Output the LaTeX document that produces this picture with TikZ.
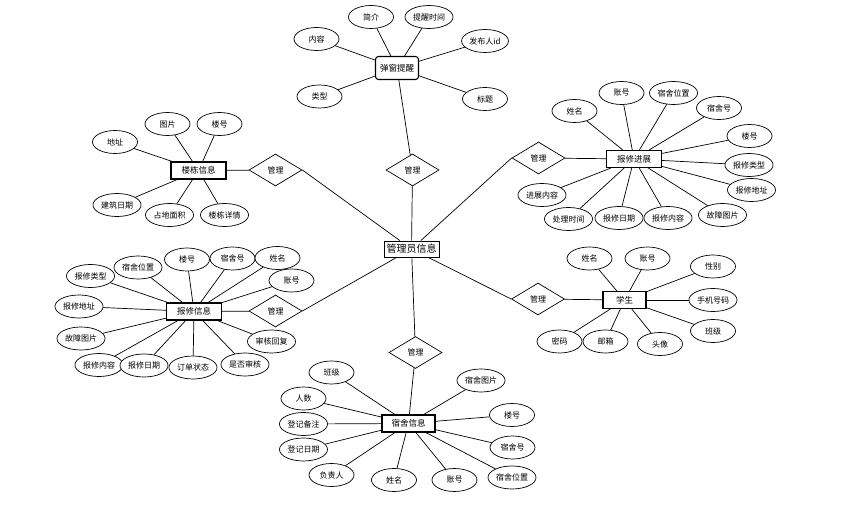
\documentclass[tikz,border=0pt]{standalone}
\usepackage{fontspec}
\newfontfamily\cjk{Noto Sans CJK SC}
\usetikzlibrary{shapes.geometric,shadows}

\begin{document}
\begin{tikzpicture}[x=1pt,y=-1pt,
	attr/.style={ellipse,draw,fill=white,line width=0.7pt,minimum width=45,minimum height=23,inner sep=1pt,font=\cjk\fontsize{8}{9}\selectfont},
	ent/.style={rectangle,draw,fill=white,line width=1.1pt,minimum width=55,minimum height=17,inner sep=1pt,font=\cjk\fontsize{8.5}{10}\selectfont},
	rel/.style={diamond,draw,fill=white,line width=0.7pt,minimum width=53,minimum height=32,inner sep=0pt,font=\cjk\fontsize{8}{9}\selectfont},
	conn/.style={line width=0.7pt}]
	%	\draw[help lines] (0,0) grid (855,505);
	\useasboundingbox (0,0) rectangle (855,505);

	\node[ent,font=\cjk\fontsize{10}{12}\selectfont,minimum height=16,line width=0.9pt,
		drop shadow={shadow xshift=1pt,shadow yshift=-1pt,opacity=0.35}] (admin) at (411.5,249) {管理员信息};

	\node[ent,rounded corners=3pt,minimum width=43,minimum height=23] (tx) at (397,68) {弹窗提醒};
	\node[ent] (ld) at (198.5,170.5) {楼栋信息};
	\node[ent] (jz) at (634,159) {报修进展};
	\node[ent] (bx) at (194,311.5) {报修信息};
	\node[ent,minimum width=43] (xs) at (624.5,300) {学生};
	\node[ent,minimum width=53] (ss) at (408.5,423.5) {宿舍信息};

	\node[rel] (r1) at (412.5,170) {管理};
	\node[rel] (r2) at (275.5,170) {管理};
	\node[rel] (r3) at (275.5,311) {管理};
	\node[rel] (r4) at (538.5,158) {管理};
	\node[rel] (r5) at (538,299) {管理};
	\node[rel] (r6) at (415.5,352.5) {管理};

	\draw[conn] (tx) to (r1);
	\draw[conn] (r1) to (admin);
	\draw[conn] (ld) to (r2);
	\draw[conn] (r2.east) to (admin);
	\draw[conn] (bx) to (r3);
	\draw[conn] (r3.east) to (admin);
	\draw[conn] (jz) to (r4);
	\draw[conn] (r4.west) to (admin);
	\draw[conn] (xs) to (r5);
	\draw[conn] (r5.west) to (admin);
	\draw[conn] (ss) to (r6);
	\draw[conn] (r6) to (admin);

	\foreach \x/\y/\t [count=\i] in {316.5/39/内容, 371/17/简介, 429/17/提醒时间, 485/41/发布人id, 319.5/96.5/类型, 485/99/标题}
		{\node[attr] (tx\i) at (\x,\y) {\t}; \draw[conn] (tx) to (tx\i);}

	\foreach \x/\y/\t [count=\i] in {115/142/地址, 167.5/124/图片, 219.5/124/楼号, 117/205/建筑日期, 169.5/215/占地面积, 224.5/215/楼栋详情}
		{\node[attr] (ld\i) at (\x,\y) {\t}; \draw[conn] (ld) to (ld\i);}

	\foreach \x/\y/\t [count=\i] in {574.5/111/姓名, 621.5/93/账号, 673.5/93/宿舍位置, 719/108/宿舍号, 749.5/136/楼号, 749/165/报修类型, 751.5/190/报修地址, 722.5/215/故障图片, 668/218/报修内容, 619/218/报修日期, 568.5/219/处理时间, 542/195/进展内容}
		{\node[attr] (jz\i) at (\x,\y) {\t}; \draw[conn] (jz) to (jz\i);}

	\foreach \x/\y/\t [count=\i] in {90.5/276/报修类型, 138/267.5/宿舍位置, 187/259.5/楼号, 232.5/258.5/宿舍号, 277.5/258/姓名, 291.5/280.5/账号, 79/306.5/报修地址, 81/338.5/故障图片, 99/365/报修内容, 144/365.5/报修日期, 193/367.5/订单状态, 245/364.5/是否审核, 271.5/341.5/审核回复}
		{\node[attr] (bx\i) at (\x,\y) {\t}; \draw[conn] (bx) to (bx\i);}

	\foreach \x/\y/\t [count=\i] in {589.5/258.5/姓名, 647.5/258.5/账号, 713/266.5/性别, 713/300/手机号码, 713/331/班级, 559.5/341.5/密码, 605.5/341.5/邮箱, 660/344/头像}
		{\node[attr] (xs\i) at (\x,\y) {\t}; \draw[conn] (xs) to (xs\i);}

	\foreach \x/\y/\t [count=\i] in {331.5/372.5/班级, 303.5/398.5/人数, 303.5/424/登记备注, 303.5/449.5/登记日期, 331.5/475/负责人, 394/480/姓名, 454.5/480/账号, 481/380.5/宿舍图片, 512/415/楼号, 512.5/447.5/宿舍号, 512/477.5/宿舍位置}
		{\node[attr] (ss\i) at (\x,\y) {\t}; \draw[conn] (ss) to (ss\i);}
\end{tikzpicture}
\end{document}
